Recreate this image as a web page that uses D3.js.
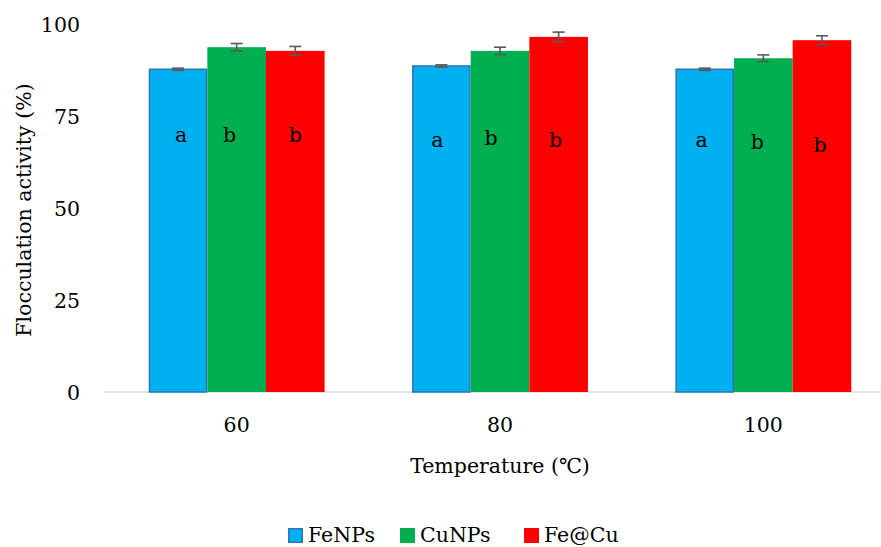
<!DOCTYPE html>
<html>
<head>
<meta charset="utf-8">
<script src="https://cdn.jsdelivr.net/npm/d3@7"></script>
<style>
  html, body { margin: 0; padding: 0; background: #fff; }
  svg { display: block; }
  text { font-family: "DejaVu Serif", "Liberation Serif", serif; fill: #000; }
</style>
</head>
<body>
<svg id="chart" width="881" height="547"></svg>
<script>
// ---- data ----
const categories = ["60", "80", "100"];
const seriesNames = ["FeNPs", "CuNPs", "Fe@Cu"];
const fenpsValues = [87.7, 88.6, 87.7];
const cunpsValues = [93.7, 92.7, 90.7];
const fecuValues  = [92.7, 96.5, 95.6];
const fenpsErrors = [0.3, 0.3, 0.3];
const cunpsErrors = [1.0, 1.0, 0.9];
const fecuErrors  = [1.2, 1.3, 1.2];
const fenpsLetters = ["a", "a", "a"];
const cunpsLetters = ["b", "b", "b"];
const fecuLetters  = ["b", "b", "b"];
const yTicks = [0, 25, 50, 75, 100];
const xTitle = "Temperature (\u2103)";
const yTitle = "Flocculation activity (%)";

// ---- build ----
const colors = { "FeNPs": "#00B0F0", "CuNPs": "#00B050", "Fe@Cu": "#FF0000" };
const strokes = { "FeNPs": "#2E75B6", "CuNPs": "#00B050", "Fe@Cu": "#FF0000" };
const valuesBy = { "FeNPs": fenpsValues, "CuNPs": cunpsValues, "Fe@Cu": fecuValues };
const errorsBy = { "FeNPs": fenpsErrors, "CuNPs": cunpsErrors, "Fe@Cu": fecuErrors };
const lettersBy = { "FeNPs": fenpsLetters, "CuNPs": cunpsLetters, "Fe@Cu": fecuLetters };

const rows = [];
categories.forEach((c, i) => {
  seriesNames.forEach((s, j) => {
    rows.push({ cat: c, ci: i, series: s, sj: j, value: valuesBy[s][i], err: errorsBy[s][i], letter: lettersBy[s][i] });
  });
});

const svg = d3.select("#chart");
const FONT = 20.5;
const FF = "DejaVu Serif, Liberation Serif, serif";

const x = d3.scaleBand().domain(categories).range([105, 895]).paddingInner(0.332).paddingOuter(0.166);
const xs = d3.scaleBand().domain(seriesNames).range([0, x.bandwidth()]).padding(0);
const y = d3.scaleLinear().domain([0, 100]).range([392, 24]);

// baseline
svg.append("line")
  .attr("x1", 105).attr("x2", 881)
  .attr("y1", y(0)).attr("y2", y(0))
  .attr("stroke", "#D9D9D9").attr("stroke-width", 1.5);

// bars
svg.append("g").selectAll("rect").data(rows).join("rect")
  .attr("x", d => x(d.cat) + xs(d.series) + (d.series === "FeNPs" ? 0.75 : 0))
  .attr("width", d => xs.bandwidth() - (d.series === "FeNPs" ? 1.5 : 0))
  .attr("y", d => y(d.value))
  .attr("height", d => y(0) - y(d.value))
  .attr("fill", d => colors[d.series])
  .attr("stroke", d => d.series === "FeNPs" ? strokes[d.series] : "none")
  .attr("stroke-width", 1.5);

// error bars
const eg = svg.append("g").attr("stroke", "#595959").attr("stroke-width", 1.6);
rows.forEach(d => {
  const cx = x(d.cat) + xs(d.series) + xs.bandwidth() / 2;
  eg.append("line").attr("x1", cx).attr("x2", cx).attr("y1", y(d.value + d.err)).attr("y2", y(d.value - d.err));
  eg.append("line").attr("x1", cx - 6).attr("x2", cx + 6).attr("y1", y(d.value + d.err)).attr("y2", y(d.value + d.err));
  eg.append("line").attr("x1", cx - 6).attr("x2", cx + 6).attr("y1", y(d.value - d.err)).attr("y2", y(d.value - d.err));
});

// significance letters
const letterDx = [[3, -7, 0], [-4, -9, -3], [-3, -6, -2]];
const letterLevel = [[69.8, 69.8, 69.8], [68.6, 69.2, 68.6], [68.4, 67.9, 67.2]];
svg.append("g").selectAll("text").data(rows).join("text")
  .attr("x", d => x(d.cat) + xs(d.series) + xs.bandwidth() / 2 + letterDx[d.ci][d.sj])
  .attr("y", d => y(letterLevel[d.ci][d.sj]))
  .attr("dy", "0.35em")
  .attr("text-anchor", "middle")
  .attr("font-size", FONT)
  .text(d => d.letter);

// y axis labels
const yAxis = d3.axisLeft(y).tickValues(yTicks).tickSize(0).tickPadding(0);
const yg = svg.append("g").attr("transform", "translate(80,0)").call(yAxis);
yg.select(".domain").remove();
yg.selectAll("text").attr("font-size", FONT).attr("font-family", FF).attr("fill", "#000").attr("dy", "0.35em");

// x axis labels
const xAxis = d3.axisBottom(x).tickSize(0).tickPadding(0);
const xg = svg.append("g").attr("transform", "translate(0,425)").call(xAxis);
xg.select(".domain").remove();
xg.selectAll("text").attr("font-size", FONT).attr("font-family", FF).attr("fill", "#000").attr("dy", "0.35em");

// titles
svg.append("text")
  .attr("transform", "translate(24," + 210 + ") rotate(-90)")
  .attr("text-anchor", "middle").attr("dy", "0.35em")
  .attr("font-size", FONT)
  .text(yTitle);

svg.append("text")
  .attr("x", 500).attr("y", 466)
  .attr("text-anchor", "middle").attr("dy", "0.35em")
  .attr("font-size", FONT)
  .text(xTitle);

// legend
const legendX = [288, 400, 524];
const lg = svg.append("g");
seriesNames.forEach((s, i) => {
  const g = lg.append("g").attr("transform", "translate(" + legendX[i] + ",528)");
  g.append("rect").attr("x", 0.75).attr("y", 0.75).attr("width", 13.5).attr("height", 13.5)
    .attr("fill", colors[s]).attr("stroke", strokes[s]).attr("stroke-width", 1.5);
  g.append("text").attr("x", 20).attr("y", 7).attr("dy", "0.35em")
    .attr("font-size", FONT).text(s);
});
</script>
</body>
</html>
